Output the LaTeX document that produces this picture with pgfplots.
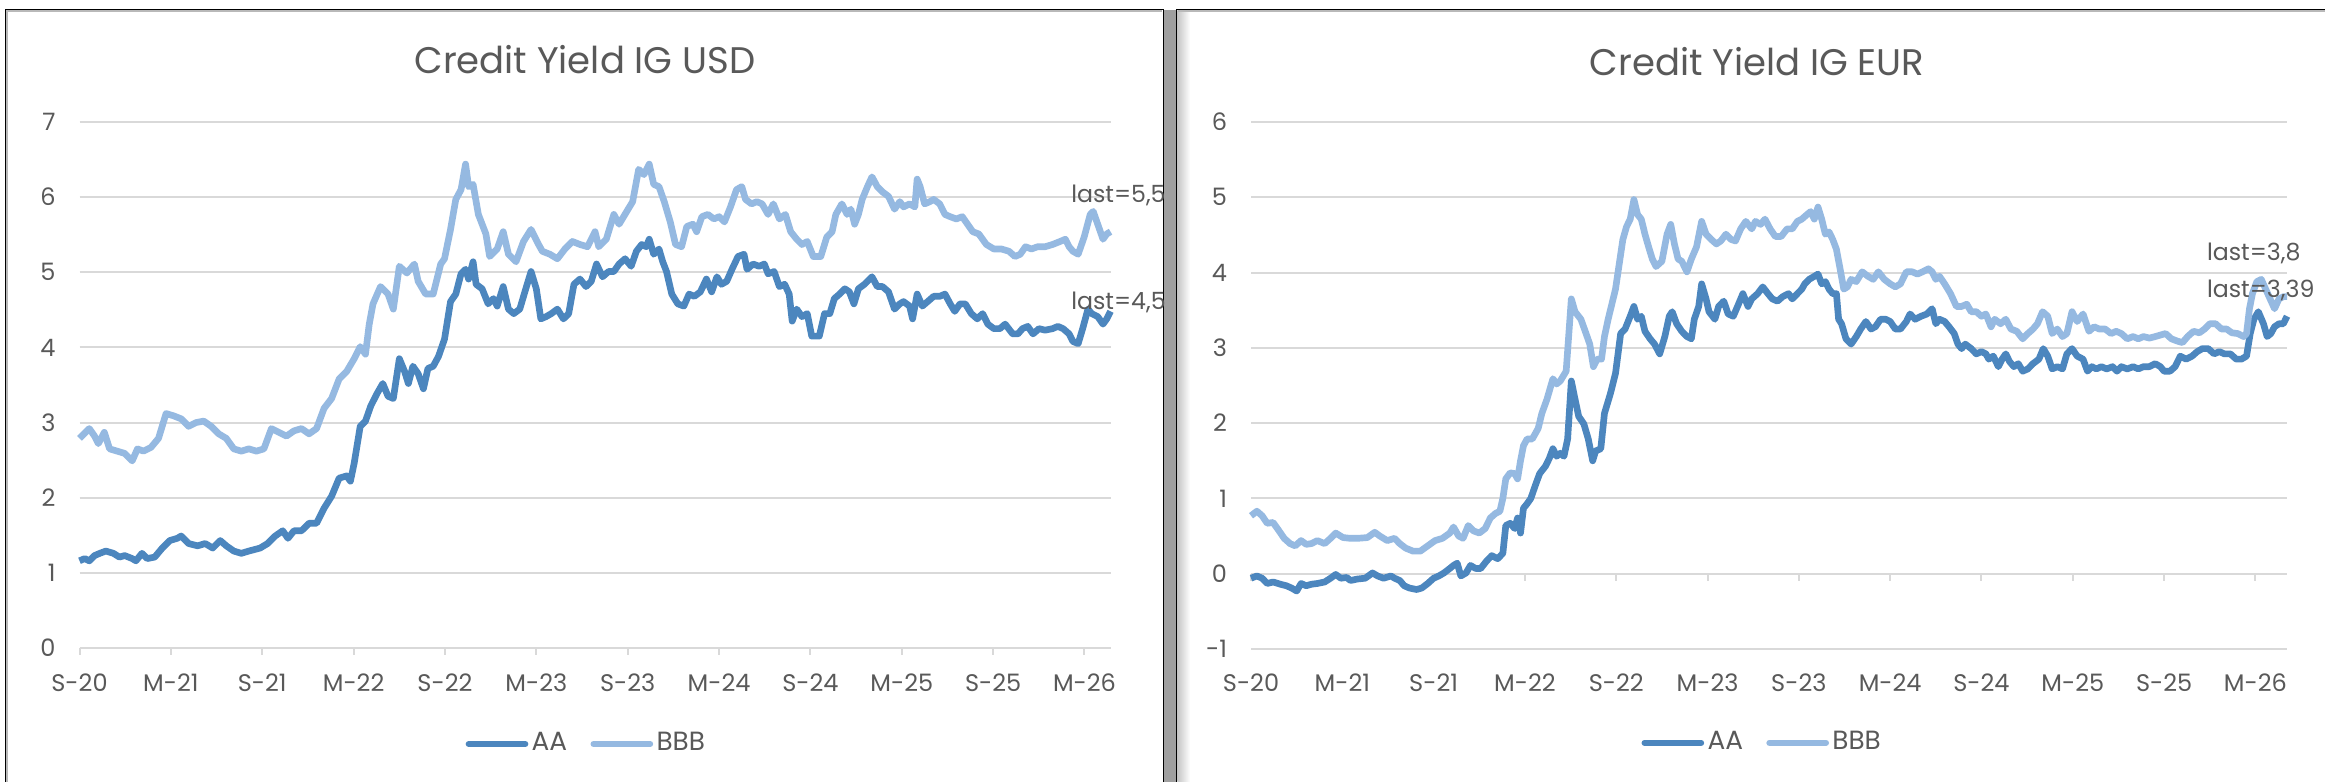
\documentclass[border=0pt]{standalone}
\usepackage{pgfplots}
\pgfplotsset{compat=1.18}
\usepackage{pgfplotstable}
\usepackage{fontspec}
\setmainfont{Poppins}
\definecolor{txt}{HTML}{595959}
\definecolor{aa}{RGB}{76,134,190}
\definecolor{bbb}{RGB}{149,185,225}
\definecolor{gridc}{HTML}{D9D9D9}

% x column: horizontal position (px), v: yield in %
\pgfplotstableread{
px v
105 2.79
118 2.92
125 2.82
130 2.72
138 2.87
145 2.65
155 2.62
165 2.59
175 2.49
182 2.65
190 2.62
200 2.67
210 2.79
220 3.12
230 3.09
240 3.05
250 2.95
260 3.00
270 3.02
280 2.95
290 2.85
300 2.79
310 2.65
320 2.62
330 2.65
340 2.62
350 2.65
360 2.92
370 2.87
380 2.82
390 2.89
400 2.92
410 2.85
420 2.92
430 3.19
440 3.32
450 3.58
460 3.68
470 3.85
478 4.01
485 3.91
490 4.31
495 4.58
505 4.81
515 4.71
522 4.51
530 5.08
540 4.99
550 5.11
555 4.88
565 4.71
575 4.71
580 4.91
585 5.11
590 5.18
598 5.57
605 5.97
612 6.10
618 6.44
622 6.14
628 6.17
635 5.77
645 5.51
650 5.21
660 5.31
668 5.54
675 5.24
685 5.14
695 5.41
705 5.57
715 5.37
720 5.28
730 5.24
740 5.18
750 5.31
760 5.41
770 5.37
780 5.34
790 5.54
795 5.34
805 5.44
815 5.77
822 5.64
828 5.74
840 5.94
848 6.37
855 6.30
862 6.44
868 6.17
875 6.14
882 5.94
890 5.67
897 5.37
905 5.34
912 5.61
920 5.64
925 5.54
932 5.74
940 5.77
948 5.71
955 5.74
962 5.67
970 5.87
978 6.10
985 6.14
990 5.97
998 5.91
1005 5.94
1012 5.91
1020 5.77
1027 5.91
1035 5.71
1043 5.77
1050 5.54
1058 5.44
1065 5.37
1072 5.41
1080 5.21
1090 5.21
1098 5.47
1105 5.54
1110 5.77
1118 5.91
1125 5.77
1130 5.84
1135 5.64
1140 5.77
1145 5.97
1152 6.14
1158 6.27
1165 6.14
1172 6.07
1180 6.01
1188 5.84
1195 5.94
1200 5.87
1208 5.91
1215 5.87
1218 6.24
1222 6.14
1228 5.91
1235 5.94
1240 5.97
1248 5.91
1255 5.77
1262 5.74
1270 5.71
1278 5.74
1285 5.64
1292 5.54
1300 5.51
1310 5.37
1320 5.31
1330 5.31
1340 5.28
1348 5.21
1355 5.24
1362 5.34
1370 5.31
1378 5.34
1388 5.34
1398 5.37
1408 5.41
1415 5.44
1420 5.34
1425 5.28
1432 5.24
1440 5.47
1448 5.77
1452 5.81
1458 5.64
1465 5.44
1470 5.51
1475 5.54
}\usdbbb

\pgfplotstableread{
px v
105 1.16
112 1.19
118 1.16
125 1.23
132 1.26
140 1.29
150 1.26
158 1.21
165 1.23
175 1.19
180 1.16
188 1.26
195 1.19
205 1.21
215 1.33
225 1.43
235 1.46
240 1.49
250 1.39
262 1.36
272 1.39
282 1.33
292 1.43
300 1.36
310 1.29
320 1.26
330 1.29
345 1.33
355 1.39
365 1.49
375 1.56
382 1.46
390 1.56
400 1.56
410 1.66
420 1.66
430 1.86
440 2.02
450 2.26
460 2.29
465 2.22
470 2.46
478 2.95
485 3.02
492 3.22
500 3.38
508 3.52
515 3.35
522 3.32
530 3.85
537 3.68
542 3.52
548 3.75
555 3.65
562 3.45
568 3.72
575 3.75
582 3.88
590 4.11
598 4.61
605 4.71
612 4.98
618 5.04
622 4.91
628 5.14
632 4.84
640 4.78
648 4.58
655 4.65
660 4.55
668 4.81
675 4.51
682 4.45
690 4.51
698 4.78
705 5.01
712 4.78
718 4.38
725 4.41
732 4.45
740 4.51
748 4.38
755 4.45
762 4.84
770 4.91
778 4.81
785 4.88
792 5.11
800 4.94
808 5.01
815 5.01
822 5.11
830 5.18
838 5.08
845 5.28
852 5.37
858 5.34
862 5.44
868 5.24
875 5.31
880 5.14
885 5.01
892 4.71
900 4.58
908 4.55
915 4.71
922 4.68
930 4.74
938 4.91
945 4.74
952 4.94
958 4.84
965 4.88
972 5.04
980 5.21
988 5.24
992 5.04
1000 5.11
1008 5.08
1015 5.11
1020 4.98
1028 5.01
1035 4.81
1042 4.84
1048 4.71
1052 4.35
1058 4.51
1065 4.41
1072 4.45
1078 4.15
1088 4.15
1095 4.45
1102 4.45
1108 4.65
1115 4.71
1122 4.78
1128 4.74
1134 4.58
1140 4.78
1148 4.84
1158 4.94
1165 4.81
1172 4.81
1180 4.74
1188 4.51
1195 4.58
1200 4.61
1208 4.55
1212 4.38
1218 4.71
1225 4.55
1232 4.61
1240 4.68
1248 4.68
1255 4.71
1262 4.58
1268 4.48
1275 4.58
1282 4.58
1290 4.45
1298 4.38
1305 4.45
1312 4.31
1320 4.25
1328 4.25
1335 4.31
1345 4.18
1352 4.18
1358 4.25
1365 4.28
1372 4.18
1380 4.25
1388 4.23
1398 4.25
1405 4.28
1412 4.25
1420 4.18
1425 4.08
1432 4.05
1438 4.25
1445 4.51
1450 4.45
1458 4.41
1465 4.31
1470 4.38
1475 4.48
}\usdaa

\pgfplotstableread{
px v
110 0.77
118 0.83
125 0.77
132 0.67
140 0.68
148 0.57
155 0.47
163 0.40
170 0.37
178 0.44
185 0.39
192 0.40
200 0.44
210 0.40
218 0.47
225 0.54
235 0.48
245 0.47
255 0.47
268 0.48
278 0.55
285 0.50
295 0.44
305 0.47
312 0.40
320 0.34
330 0.30
340 0.30
350 0.37
360 0.44
370 0.47
380 0.54
385 0.62
392 0.50
398 0.47
405 0.64
412 0.57
420 0.54
428 0.60
435 0.74
442 0.80
448 0.83
452 1.00
456 1.26
462 1.34
468 1.33
472 1.26
476 1.50
480 1.70
485 1.79
492 1.79
500 1.93
505 2.13
512 2.32
520 2.59
525 2.52
530 2.56
538 2.69
545 3.65
550 3.48
558 3.38
565 3.19
570 3.05
575 2.75
580 2.85
586 2.85
590 3.15
595 3.38
600 3.58
605 3.78
610 4.11
615 4.44
620 4.61
625 4.71
630 4.97
635 4.77
640 4.71
645 4.51
650 4.34
655 4.18
660 4.08
668 4.15
675 4.51
680 4.64
685 4.38
690 4.18
695 4.15
702 4.01
708 4.18
715 4.34
722 4.68
728 4.51
735 4.44
742 4.38
748 4.42
755 4.51
762 4.44
768 4.42
775 4.58
782 4.68
790 4.58
795 4.68
802 4.64
808 4.71
815 4.58
822 4.48
830 4.48
838 4.58
845 4.58
852 4.68
858 4.71
865 4.77
870 4.81
875 4.71
880 4.87
885 4.71
890 4.51
895 4.54
900 4.44
905 4.31
910 4.05
915 3.78
920 3.81
925 3.91
932 3.88
940 4.01
948 3.95
955 3.91
962 4.01
970 3.91
978 3.85
985 3.81
992 3.85
1000 4.01
1008 4.01
1015 3.98
1022 4.01
1030 4.05
1035 4.01
1040 3.91
1045 3.95
1052 3.85
1060 3.72
1068 3.55
1075 3.55
1082 3.58
1088 3.48
1095 3.48
1102 3.42
1108 3.45
1115 3.28
1120 3.38
1128 3.32
1135 3.38
1142 3.25
1150 3.22
1158 3.12
1165 3.19
1172 3.25
1178 3.32
1185 3.48
1192 3.42
1198 3.19
1205 3.25
1212 3.15
1218 3.19
1225 3.48
1232 3.35
1240 3.45
1248 3.22
1255 3.28
1262 3.25
1270 3.25
1278 3.19
1285 3.22
1292 3.19
1300 3.12
1308 3.15
1315 3.12
1322 3.15
1330 3.13
1338 3.15
1345 3.17
1352 3.19
1360 3.12
1368 3.09
1375 3.07
1382 3.15
1390 3.22
1398 3.20
1405 3.25
1412 3.32
1420 3.32
1428 3.25
1435 3.25
1442 3.20
1450 3.19
1458 3.15
1462 3.19
1466 3.52
1470 3.72
1476 3.88
1482 3.91
1488 3.78
1494 3.65
1500 3.52
1506 3.65
1512 3.68
1517 3.68
}\eurbbb

\pgfplotstableread{
px v
110 -0.06
118 -0.03
125 -0.06
132 -0.13
140 -0.11
150 -0.14
158 -0.16
165 -0.19
172 -0.23
178 -0.13
185 -0.16
192 -0.14
200 -0.13
210 -0.11
218 -0.06
225 -0.01
232 -0.06
240 -0.05
245 -0.09
255 -0.07
265 -0.06
275 0.01
282 -0.03
290 -0.06
300 -0.03
305 -0.06
312 -0.09
318 -0.16
325 -0.19
335 -0.21
342 -0.19
350 -0.13
358 -0.06
365 -0.03
372 0.01
380 0.07
385 0.11
390 0.14
395 -0.03
402 0.01
408 0.11
415 0.07
422 0.07
430 0.17
437 0.24
445 0.20
452 0.27
456 0.64
462 0.67
468 0.60
472 0.74
476 0.54
480 0.87
485 0.93
490 1.00
496 1.17
502 1.33
510 1.43
515 1.53
520 1.66
525 1.56
530 1.60
535 1.56
540 1.79
545 2.56
550 2.32
555 2.09
562 1.99
568 1.79
574 1.50
578 1.63
585 1.66
590 2.13
598 2.39
605 2.66
612 3.19
618 3.25
625 3.42
630 3.55
635 3.38
640 3.42
645 3.22
652 3.12
658 3.05
665 2.92
672 3.15
678 3.42
682 3.48
688 3.32
695 3.22
702 3.15
708 3.12
712 3.38
718 3.55
722 3.85
728 3.65
732 3.48
740 3.38
745 3.55
752 3.62
758 3.45
765 3.42
772 3.58
778 3.72
785 3.55
790 3.65
798 3.72
805 3.81
812 3.72
818 3.65
825 3.62
832 3.68
840 3.72
845 3.65
852 3.72
858 3.78
862 3.85
868 3.91
875 3.95
880 3.98
885 3.85
890 3.88
895 3.78
900 3.72
905 3.72
908 3.38
912 3.32
918 3.12
925 3.05
932 3.15
938 3.25
945 3.35
952 3.25
958 3.28
965 3.38
972 3.38
978 3.35
985 3.25
992 3.25
1000 3.35
1005 3.45
1012 3.38
1020 3.42
1028 3.45
1035 3.52
1040 3.32
1045 3.38
1052 3.35
1058 3.28
1065 3.19
1070 3.05
1075 2.99
1080 3.05
1088 2.99
1095 2.92
1102 2.95
1108 2.92
1112 2.85
1118 2.89
1125 2.75
1130 2.85
1135 2.92
1140 2.82
1146 2.75
1152 2.79
1158 2.69
1165 2.72
1172 2.79
1180 2.85
1186 2.99
1192 2.89
1198 2.72
1205 2.75
1212 2.72
1218 2.92
1225 2.99
1232 2.89
1240 2.85
1246 2.69
1252 2.75
1258 2.72
1265 2.75
1272 2.72
1280 2.75
1286 2.69
1292 2.75
1300 2.72
1308 2.75
1315 2.72
1322 2.75
1330 2.75
1338 2.79
1345 2.75
1350 2.69
1358 2.69
1365 2.75
1372 2.89
1380 2.85
1388 2.89
1395 2.95
1402 2.99
1410 2.99
1418 2.92
1425 2.95
1432 2.92
1440 2.92
1448 2.85
1455 2.85
1462 2.89
1467 3.19
1472 3.38
1478 3.48
1485 3.32
1490 3.15
1495 3.19
1500 3.28
1506 3.32
1512 3.32
1517 3.42
}\euraa

\tikzset{lastlab/.style={anchor=west, font=\fontsize{7.1}{8}\selectfont, text=txt, inner sep=0pt}}
\pgfplotsset{
  panel/.style={
    scale only axis, anchor=south west, clip=false,
    axis line style={draw=none}, major tick length=0pt,
    ymajorgrids, grid style={draw=gridc, line width=0.6pt},
    xtick={0,6,...,66},
    xticklabels={S-20,M-21,S-21,M-22,S-22,M-23,S-23,M-24,S-24,M-25,S-25,M-26},
    tick label style={font=\fontsize{7.2}{8}\selectfont, text=txt, inner sep=0pt},
    yticklabel style={anchor=east, xshift=-7pt},
    title style={font=\fontsize{11.1}{13}\selectfont, text=txt, anchor=center, inner sep=0pt, yshift=-6pt},
    legend columns=2,
    legend style={draw=none, fill=none, font=\fontsize{7.9}{9}\selectfont, text=txt,
      anchor=center, nodes={inner sep=1pt},
      /tikz/every even column/.append style={column sep=6pt}},
    legend image code/.code={\draw[##1, line width=1.8pt, line cap=round] (0pt,0pt) -- (17pt,0pt);},
    every axis plot/.append style={line width=2pt, line join=round},
  },
}

\begin{document}
\begin{tikzpicture}
\path[use as bounding box] (0,0) rectangle (697.5pt,234.6pt);
\clip (0,0) rectangle (697.5pt,234.6pt);
\fill[white] (0,0) rectangle (697.5pt,234.6pt);
% panel frames
\fill[gray!75] (349.2pt,-2pt) rectangle (352.8pt,231.6pt);
\shade[left color=gray!45, right color=white] (353.2pt,-2pt) rectangle (357pt,231.4pt);
\draw[gray!55, line width=0.35pt] (2.1pt,-2pt) -- (2.1pt,231.3pt) -- (348.6pt,231.3pt);
\draw[gray!55, line width=0.35pt] (353.4pt,231.3pt) -- (700pt,231.3pt);
\draw[black, line width=0.45pt] (1.65pt,-2pt) -- (1.65pt,231.75pt) -- (349.05pt,231.75pt) -- (349.05pt,-2pt);
\draw[black, line width=0.45pt] (352.95pt,-2pt) -- (352.95pt,231.75pt) -- (700pt,231.75pt);

% ---------- USD ----------
\begin{axis}[panel,
  at={(23.85pt,40.2pt)}, width=309.3pt, height=157.8pt,
  xmin=0, xmax=67.71, ymin=0, ymax=7,
  ytick={0,1,2,3,4,5,6,7}, yticklabels={0,1,2,3,4,5,6,7},
  xticklabel style={anchor=center, yshift=-10.5pt},
  title={Credit Yield IG USD},
  title style={at={(axis description cs:0.4903,1.1179)}},
  legend style={at={(axis description cs:0.4922,-0.1825)}},
]
\pgfplotsinvokeforeach{0,6,...,66}{\draw[gridc, line width=0.6pt] (axis cs:#1,0) -- ++(0pt,-2.1pt);}
\addplot[aa] table[x expr={(\thisrow{px}-105)/20.233}, y=v]{\usdaa};
\addplot[bbb] table[x expr={(\thisrow{px}-105)/20.233}, y=v]{\usdbbb};
\legend{AA,BBB}
\node[lastlab] at (axis cs:65.09,6.02) {last=5,5};
\node[lastlab] at (axis cs:65.09,4.60) {last=4,5};
\end{axis}

% ---------- EUR ----------
\begin{axis}[panel,
  at={(375.3pt,39.9pt)}, width=310.8pt, height=158.1pt,
  xmin=0, xmax=68.08, ymin=-1, ymax=6,
  ytick={-1,0,1,2,3,4,5,6}, yticklabels={-1,0,1,2,3,4,5,6},
  xticklabel style={anchor=center, yshift=-10.1pt},
  title={Credit Yield IG EUR},
  title style={at={(axis description cs:0.4884,1.1144)}},
  legend style={at={(axis description cs:0.494,-0.178)}},
]
\pgfplotsinvokeforeach{0,6,...,66}{\draw[gridc, line width=0.6pt] (axis cs:#1,0) -- ++(0pt,-2.1pt);}
\addplot[aa] table[x expr={(\thisrow{px}-110)/20.667}, y=v]{\euraa};
\addplot[bbb] table[x expr={(\thisrow{px}-110)/20.667}, y=v]{\eurbbb};
\legend{AA,BBB}
\node[lastlab] at (axis cs:62.78,4.25) {last=3,8};
\node[lastlab] at (axis cs:62.78,3.76) {last=3,39};
\end{axis}
\end{tikzpicture}
\end{document}
